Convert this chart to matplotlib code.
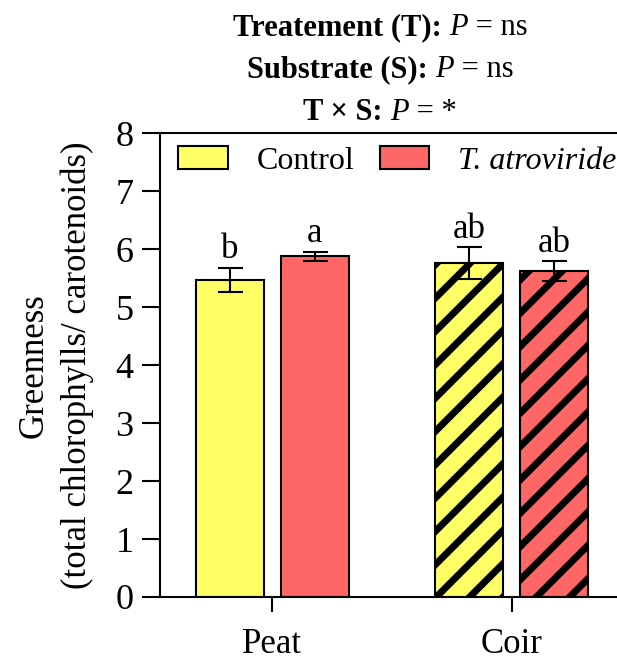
import matplotlib
matplotlib.use("Agg")
import matplotlib.pyplot as plt
import numpy as np
from matplotlib.patches import Patch

plt.rcParams['font.family'] = ['Liberation Serif', 'DejaVu Serif']
plt.rcParams['hatch.linewidth'] = 5.0

substrates = ["Peat", "Coir"]
treatments = ["Control", "T. atroviride"]
means_control = [5.47, 5.76]
err_control = [0.21, 0.27]
means_tricho = [5.88, 5.62]
err_tricho = [0.08, 0.17]
letters_control = ["b", "ab"]
letters_tricho = ["a", "ab"]
yticks = [0, 1, 2, 3, 4, 5, 6, 7, 8]
title_lines = [
    [("Treatement (T): ", "bold", "normal"), ("P", "normal", "italic"), (" = ns", "normal", "normal")],
    [("Substrate (S): ", "bold", "normal"), ("P", "normal", "italic"), (" = ns", "normal", "normal")],
    [("T × S: ", "bold", "normal"), ("P", "normal", "italic"), (" = *", "normal", "normal")],
]

col_control = "#FFFF66"
col_tricho = "#FF6666"

FS = 25

fig = plt.figure(figsize=(6.17, 6.6), dpi=100)
ax = fig.add_axes([0.259, 0.0955, 0.741, 0.7025])

x = np.arange(len(substrates))
off = 0.178
w = 0.285
hatches = ["", "/"]
for i in range(len(substrates)):
    for j, (m, e, c, lab) in enumerate([(means_control[i], err_control[i], col_control, letters_control[i]),
                                          (means_tricho[i], err_tricho[i], col_tricho, letters_tricho[i])]):
        xpos = x[i] + (-off if j == 0 else off)
        ax.bar(xpos, m, width=w, color=c, edgecolor="black", linewidth=1.5,
               hatch=hatches[i], zorder=2)
        ax.errorbar(xpos, m, yerr=e, fmt="none", ecolor="black", elinewidth=1.5,
                    capsize=9, capthick=1.5, zorder=3)
        ax.text(xpos, m + e + 0.03, lab, ha="center", va="bottom", fontsize=FS)

ax.set_xlim(-0.471, 1.441)
ax.set_ylim(0, 8)
ax.set_yticks(yticks)
ax.set_xticks(x)
ax.set_xticklabels(substrates)
ax.tick_params(axis="y", length=13, width=1.5, labelsize=FS + 1, pad=6)
ax.tick_params(axis="x", length=11, width=1.5, labelsize=FS, pad=11)
for s in ["left", "bottom", "top"]:
    ax.spines[s].set_linewidth(1.5)
ax.spines["right"].set_visible(False)

ax.set_ylabel("Greenness\n(total chlorophylls/ carotenoids)", fontsize=FS, labelpad=15,
              linespacing=1.4)

handles = [Patch(facecolor=col_control, edgecolor="black", linewidth=1.5),
           Patch(facecolor=col_tricho, edgecolor="black", linewidth=1.5)]
leg = ax.legend(handles, ["Control", "T. atroviride"], loc="upper left",
                ncol=2, frameon=False, fontsize=FS - 2, handlelength=1.55, handleheight=0.72,
                columnspacing=0.8, handletextpad=0.9, borderaxespad=0.1,
                borderpad=0.3, bbox_to_anchor=(0.012, 1.0))
leg.get_texts()[1].set_fontstyle("italic")

# Title lines built from styled pieces
fig.canvas.draw()
renderer = fig.canvas.get_renderer()
cx = 0.616
ys = [0.958, 0.894, 0.830]
TFS = 22
for line, yy in zip(title_lines, ys):
    pieces = []
    for txt, wgt, sty in line:
        t = fig.text(0, yy, txt, fontsize=TFS, fontweight=wgt, fontstyle=sty,
                     ha="left", va="center")
        pieces.append(t)
    widths = [p.get_window_extent(renderer).width / fig.bbox.width for p in pieces]
    total = sum(widths)
    xs = cx - total / 2
    for p, wd in zip(pieces, widths):
        p.set_x(xs)
        xs += wd

fig.savefig("out.png", dpi=100)
